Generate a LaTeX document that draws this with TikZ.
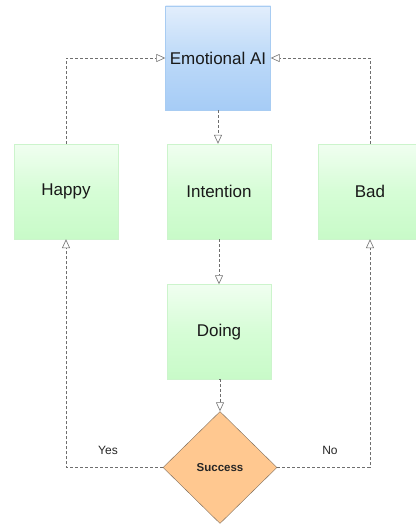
\documentclass[tikz,border=0pt]{standalone}
\usepackage{fontspec}
\setmainfont{Liberation Sans}
\usetikzlibrary{arrows.meta,shapes.geometric}
\definecolor{bluetop}{HTML}{E2EEFC}
\definecolor{bluemid}{HTML}{BCD9F8}
\definecolor{bluebot}{HTML}{A6CCF6}
\definecolor{blueline}{HTML}{A8CCF2}
\definecolor{greentop}{HTML}{F0FEF0}
\definecolor{greenmid}{HTML}{D6FDD6}
\definecolor{greenbot}{HTML}{C8FAC8}
\definecolor{greenline}{HTML}{CCF4CC}
\definecolor{orangefill}{HTML}{FFC890}
\definecolor{orangeline}{HTML}{7A6A5A}
\definecolor{connline}{HTML}{6E6E6E}
\begin{document}
\begin{tikzpicture}[x=1pt,y=-1pt,
  box/.style={rectangle, minimum width=104pt, minimum height=95pt, inner sep=0pt,
    font=\fontsize{17}{20}\selectfont, text=black!90},
  greenbox/.style={box, draw=greenline, top color=greentop, bottom color=greenbot, middle color=greenmid},
  bluebox/.style={box, draw=blueline, top color=bluetop, bottom color=bluebot, middle color=bluemid,
    minimum width=105pt, minimum height=104pt},
  decision/.style={diamond, draw=orangeline, fill=orangefill, minimum width=114pt, minimum height=112pt,
    inner sep=0pt, font=\fontsize{11.5}{14}\selectfont, text=black!85},
  conn/.style={draw=connline, dash pattern=on 3pt off 2pt, line width=0.6pt,
    -{Triangle[open, length=9pt, width=8pt]}},
  lbl/.style={font=\fontsize{12}{14}\selectfont, text=black!85}
]
\useasboundingbox (0,0) rectangle (415,524);
\node[bluebox] (ai) at (218,58) {Emotional AI};
\node[greenbox] (happy) at (66,191.5) {Happy};
\node[greenbox] (intention) at (219,191.5) {Intention};
\node[greenbox] (bad) at (370,191.5) {Bad};
\node[greenbox] (doing) at (219,332) {Doing};
\node[decision] (dia) at (220,467.5) {\textbf{Success}};

\draw[conn] (happy.north) |- (ai.west);
\draw[conn] (bad.north) |- (ai.east);
\draw[conn] (ai.south) -- (ai.south |- intention.north);
\draw[conn] (intention.south) -- (intention.south |- doing.north);
\draw[conn] (doing.south) -- (doing.south -| dia.north) -- (dia.north);
\draw[conn] (dia.west) -| (happy.south);
\draw[conn] (dia.east) -| (bad.south);
\node[lbl] (yes) at (108,450) {Yes};
\node[lbl] (no) at (330,450) {No};
\end{tikzpicture}
\end{document}
